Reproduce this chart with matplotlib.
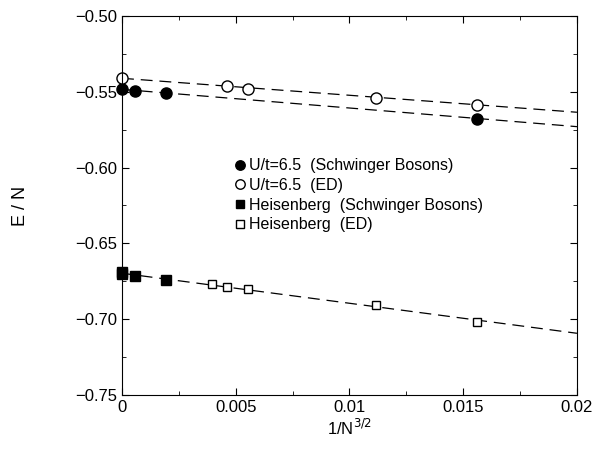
import matplotlib
matplotlib.use("Agg")
import matplotlib.pyplot as plt
import numpy as np
from matplotlib.ticker import MultipleLocator, FuncFormatter

plt.rcParams['font.family'] = ['Liberation Sans', 'DejaVu Sans']

# data: x = 1/N^{3/2}
hub_sb_x = [0.0, 0.000579, 0.00195, 0.0156]
hub_sb_y = [-0.5484, -0.5493, -0.5506, -0.5679]
hub_ed_x = [0.0, 0.00463, 0.00552, 0.01118, 0.0156]
hub_ed_y = [-0.5411, -0.5460, -0.5484, -0.5541, -0.5587]
heis_sb_x = [0.0, 0.0, 0.000579, 0.00195]
heis_sb_y = [-0.6692, -0.6700, -0.6713, -0.6743]
heis_ed_x = [0.00395, 0.00463, 0.00552, 0.01118, 0.0156]
heis_ed_y = [-0.6770, -0.6788, -0.6801, -0.6906, -0.7016]

# linear extrapolations (intercept, slope)
fits = [(-0.5411, -1.12), (-0.5484, -1.23), (-0.6697, -1.98)]

fig = plt.figure(figsize=(5.97, 4.49), dpi=100)
ax = fig.add_axes([0.2044, 0.1203, 0.762, 0.8441])

xs = np.array([0.0, 0.02])
for a, b in fits:
    ax.plot(xs, a + b * xs, color='black', lw=0.9, dashes=(9.5, 5.5))

ax.plot(hub_sb_x, hub_sb_y, 'o', ms=8, mfc='black', mec='black', ls='none',
        label='U/t=6.5  (Schwinger Bosons)', clip_on=False)
ax.plot(hub_ed_x, hub_ed_y, 'o', ms=8, mfc='white', mec='black', mew=1.0, ls='none',
        label='U/t=6.5  (ED)', clip_on=False)
ax.plot(heis_sb_x, heis_sb_y, 's', ms=6.5, mfc='black', mec='black', ls='none',
        label='Heisenberg  (Schwinger Bosons)', clip_on=False)
ax.plot(heis_ed_x, heis_ed_y, 's', ms=6, mfc='white', mec='black', mew=1.0, ls='none',
        label='Heisenberg  (ED)', clip_on=False)

ax.set_xlim(0, 0.02)
ax.set_ylim(-0.75, -0.50)
ax.xaxis.set_major_locator(MultipleLocator(0.005))
ax.xaxis.set_minor_locator(MultipleLocator(0.0025))
ax.yaxis.set_major_locator(MultipleLocator(0.05))
ax.yaxis.set_minor_locator(MultipleLocator(0.025))
ax.xaxis.set_major_formatter(FuncFormatter(lambda v, p: '0' if abs(v) < 1e-12 else ('%g' % v)))
ax.yaxis.set_major_formatter(FuncFormatter(lambda v, p: ('%.2f' % v).replace('-', '\u2212')))
ax.tick_params(which='both', direction='in', top=True, right=True, labelsize=12)
ax.tick_params(which='major', length=5)
ax.tick_params(which='minor', length=3)

ax.set_xlabel('1/N$^{3/2}$', fontsize=12, labelpad=2)
ax.set_ylabel('E / N', fontsize=13)
ax.yaxis.set_label_coords(-0.205, 0.5)

ax.legend(loc='upper left', bbox_to_anchor=(0.245, 0.625), frameon=False, fontsize=11.5,
          handletextpad=0.16, handlelength=0.8, labelspacing=0.3, borderpad=0,
          borderaxespad=0, markerscale=0.85)

fig.savefig('out.png', dpi=100)
